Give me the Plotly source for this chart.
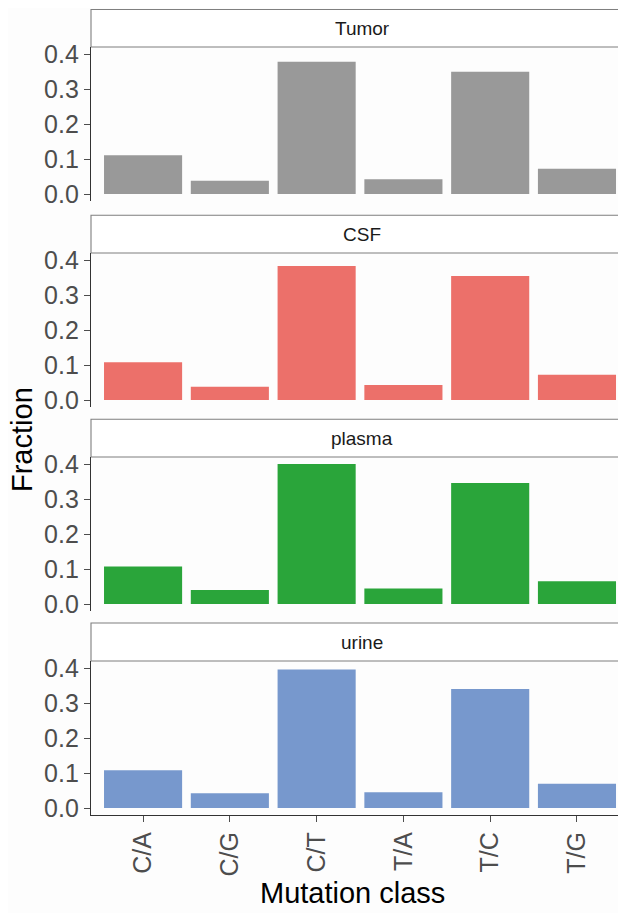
import plotly.graph_objects as go

categories = ["C/A", "C/G", "C/T", "T/A", "T/C", "T/G"]
panel_names = ["Tumor", "CSF", "plasma", "urine"]
tumor = [0.111, 0.038, 0.378, 0.042, 0.349, 0.072]
csf = [0.108, 0.038, 0.383, 0.043, 0.354, 0.072]
plasma = [0.107, 0.040, 0.400, 0.044, 0.346, 0.065]
urine = [0.108, 0.042, 0.396, 0.045, 0.340, 0.069]
y_ticks = [0.0, 0.1, 0.2, 0.3, 0.4]
y_tick_text = ["0.0", "0.1", "0.2", "0.3", "0.4"]
colors = ["#999999", "#EC706A", "#2AA53A", "#7798CD"]
series = [tumor, csf, plasma, urine]

# The page body has an 8px margin, so the figure is offset by 8px.
OFF = 8
W, H = 626 - OFF, 913 - OFF
# screen-pixel geometry (top of strip, bottom of strip, bottom of panel)
geo = [(9.5, 47, 201), (215.3, 253, 407), (419.3, 457, 611), (623, 661, 815)]


def px(x):
    return (x - OFF) / W


def py(y):
    return 1 - (y - OFF) / H


x0 = px(91)

fig = go.Figure()
layout = dict(
    width=W, height=H,
    margin=dict(l=0, r=0, t=0, b=0),
    paper_bgcolor="#FDFDFD", plot_bgcolor="#FDFDFD",
    showlegend=False, bargap=0.1,
    font=dict(family="Liberation Sans, Arial, sans-serif", color="#4D4D4D"),
    shapes=[], annotations=[],
)

for i, (name, vals, col) in enumerate(zip(panel_names, series, colors)):
    k = "" if i == 0 else str(i + 1)
    fig.add_trace(go.Bar(x=categories, y=vals, marker=dict(color=col, line=dict(width=0)),
                         xaxis="x" + k, yaxis="y" + k, width=0.9))
    st, sb, pb = geo[i]
    last = i == 3
    layout["xaxis" + k] = dict(
        domain=[x0, 1], anchor="y" + k, type="category",
        categoryorder="array", categoryarray=categories,
        range=[-0.6, 5.565], showgrid=False, zeroline=False,
        showline=last, linecolor="#333333", linewidth=1.3,
        ticks="outside" if last else "", ticklen=6, tickcolor="#4D4D4D", tickwidth=1.1,
        showticklabels=last, tickangle=-90,
        tickfont=dict(size=25, color="#4D4D4D"),
        automargin=False, fixedrange=True,
    )
    layout["yaxis" + k] = dict(
        domain=[py(pb), py(sb)], anchor="x" + k,
        range=[-0.02, 0.42], showgrid=False, zeroline=False,
        showline=True, linecolor="#333333", linewidth=1.3,
        ticks="outside", ticklen=6, tickcolor="#4D4D4D", tickwidth=1.1,
        tickvals=y_ticks, ticktext=y_tick_text,
        tickfont=dict(size=25, color="#4D4D4D"),
        automargin=False, fixedrange=True,
    )
    # strip
    layout["shapes"].append(dict(type="rect", xref="paper", yref="paper",
                                 x0=x0, x1=1.01, y0=py(sb), y1=py(st),
                                 line=dict(color="#7F7F7F", width=1.1), fillcolor="#FFFFFF", layer="below"))
    layout["annotations"].append(dict(text=name, xref="paper", yref="paper",
                                      x=px(362), y=py((st + sb) / 2), showarrow=False,
                                      xanchor="center", yanchor="middle",
                                      font=dict(size=19, color="#1A1A1A")))

layout["annotations"].append(dict(text="Fraction", xref="paper", yref="paper",
                                  x=px(22), y=py(440), textangle=-90, showarrow=False,
                                  xanchor="center", yanchor="middle",
                                  font=dict(size=29, color="#000000")))
layout["annotations"].append(dict(text="Mutation class", xref="paper", yref="paper",
                                  x=px(352), y=py(893), showarrow=False,
                                  xanchor="center", yanchor="middle",
                                  font=dict(size=29, color="#000000")))

fig.update_layout(**layout)
fig.write_html("out.html")
